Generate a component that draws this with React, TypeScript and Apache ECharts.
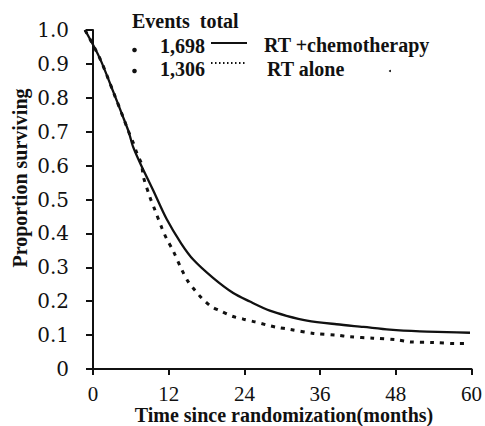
import React, { useEffect, useRef } from "react";
import * as echarts from "echarts";

// Months since randomization / proportion surviving
const rtChemoMonths = [0, 2.3, 4.4, 6.0, 6.8, 7.5, 8.6, 10.6, 12.7, 15.0, 16.9, 20.0, 23.1, 25.7, 28.8, 31.4, 34.6, 39.2, 43.4, 47.5, 52.2, 56.4, 60];
const rtChemoSurv = [1.0, 0.917, 0.818, 0.74, 0.7, 0.655, 0.607, 0.528, 0.443, 0.37, 0.322, 0.268, 0.224, 0.199, 0.172, 0.157, 0.143, 0.132, 0.124, 0.116, 0.111, 0.109, 0.107];

const rtAloneMonths = [0, 2.3, 4.4, 6.0, 6.8, 7.5, 8.1, 8.8, 9.1, 10.1, 10.9, 12.0, 12.7, 13.8, 15.1, 16.1, 17.1, 18.2, 19.7, 21.0, 22.9, 24.7, 26.5, 28.3, 29.9, 31.9, 35.6, 39.2, 41.3, 44.9, 48.6, 50.6, 54.3, 57.9, 60];
const rtAloneSurv = [1.0, 0.917, 0.818, 0.74, 0.7, 0.668, 0.636, 0.605, 0.567, 0.508, 0.469, 0.415, 0.385, 0.346, 0.292, 0.257, 0.233, 0.209, 0.184, 0.172, 0.156, 0.147, 0.139, 0.13, 0.123, 0.117, 0.105, 0.1, 0.095, 0.091, 0.086, 0.08, 0.078, 0.075, 0.075];

const xTicks = [0, 12, 24, 36, 48, 60];
const legendEvents = ["1,698", "1,306"];
const legendNames = ["RT +chemotherapy", "RT alone"];

const FONT = "Liberation Serif";
const INK = "#111";

export default function App() {
  const ref = useRef<HTMLDivElement>(null);
  useEffect(() => {
    if (!ref.current) return;
    const chart = echarts.init(ref.current, null, { renderer: "svg" });
    const solid = rtChemoMonths.map((m, i) => [m, rtChemoSurv[i]]);
    const dashed = rtAloneMonths.map((m, i) => [m, rtAloneSurv[i]]);
    const boldText = (text: string, x: number, y: number, extra: any = {}) => ({
      type: "text",
      x,
      y,
      ...extra,
      style: {
        text,
        font: `bold 20px "${FONT}"`,
        fill: INK,
        verticalAlign: "middle",
        ...(extra.style || {}),
      },
    });
    chart.setOption({
      animation: false,
      backgroundColor: "#fff",
      textStyle: { fontFamily: "serif" },
      grid: [
        { left: 93, right: 13, top: 30, bottom: 57 },
        { left: 85, right: 15, top: 30, bottom: 57 },
      ],
      xAxis: [
        {
          type: "value",
          gridIndex: 0,
          min: xTicks[0],
          max: xTicks[xTicks.length - 1],
          interval: 12,
          offset: 10,
          axisLine: { lineStyle: { color: INK, width: 2 } },
          axisTick: { show: true, inside: false, length: 6, lineStyle: { color: INK, width: 2 } },
          axisLabel: { color: INK, fontSize: 21, fontFamily: "serif", margin: 4 },
          splitLine: { show: false },
        },
        { type: "value", gridIndex: 1, min: 0, max: 60, show: false },
      ],
      yAxis: [
        {
          type: "value",
          gridIndex: 0,
          min: 0,
          max: 1,
          interval: 0.1,
          offset: 14,
          axisLine: { show: true, lineStyle: { color: INK, width: 2 } },
          axisTick: { show: true, inside: false, length: 7, lineStyle: { color: INK, width: 2 } },
          axisLabel: {
            color: INK,
            fontSize: 20,
            fontFamily: "DejaVu Serif",
            margin: 10,
            formatter: (v: number) => (v === 0 ? "0" : v.toFixed(1)),
          },
          splitLine: { show: false },
        },
        { type: "value", gridIndex: 1, min: 0, max: 1, show: false },
      ],
      series: [
        {
          name: "RT +chemotherapy",
          type: "line",
          xAxisIndex: 1,
          yAxisIndex: 1,
          data: solid,
          showSymbol: false,
          smooth: 0.3,
          lineStyle: { color: INK, width: 2.3 },
        },
        {
          name: "RT alone",
          type: "line",
          xAxisIndex: 1,
          yAxisIndex: 1,
          data: dashed,
          showSymbol: false,
          smooth: 0.3,
          lineStyle: { color: INK, width: 3, type: [4, 6] },
        },
      ],
      graphic: [
        boldText("Proportion surviving", 20, 178, { rotation: Math.PI / 2, style: { align: "center" } }),
        boldText("Time since randomization(months)", 284, 415, { style: { align: "center" } }),
        boldText("Events  total", 132, 21),
        { type: "circle", shape: { cx: 134.5, cy: 50, r: 2.3 }, style: { fill: INK } },
        { type: "circle", shape: { cx: 134.5, cy: 71, r: 2.3 }, style: { fill: INK } },
        boldText(legendEvents[0], 160, 45.5),
        boldText(legendEvents[1], 160, 68.5),
        {
          type: "line",
          shape: { x1: 211, y1: 43, x2: 247, y2: 43 },
          style: { stroke: INK, lineWidth: 2 },
        },
        {
          type: "line",
          shape: { x1: 211, y1: 63, x2: 247, y2: 63 },
          style: { stroke: INK, lineWidth: 2, lineDash: [1.5, 2.5] },
        },
        boldText(legendNames[0], 264, 45),
        boldText(legendNames[1], 267, 69),
        { type: "circle", shape: { cx: 390, cy: 71, r: 1 }, style: { fill: INK } },
      ],
    });
    return () => chart.dispose();
  }, []);
  return (
    <div
      ref={ref}
      style={{ position: "fixed", left: 0, top: 0, width: 485, height: 426, background: "#fff" }}
    />
  );
}
